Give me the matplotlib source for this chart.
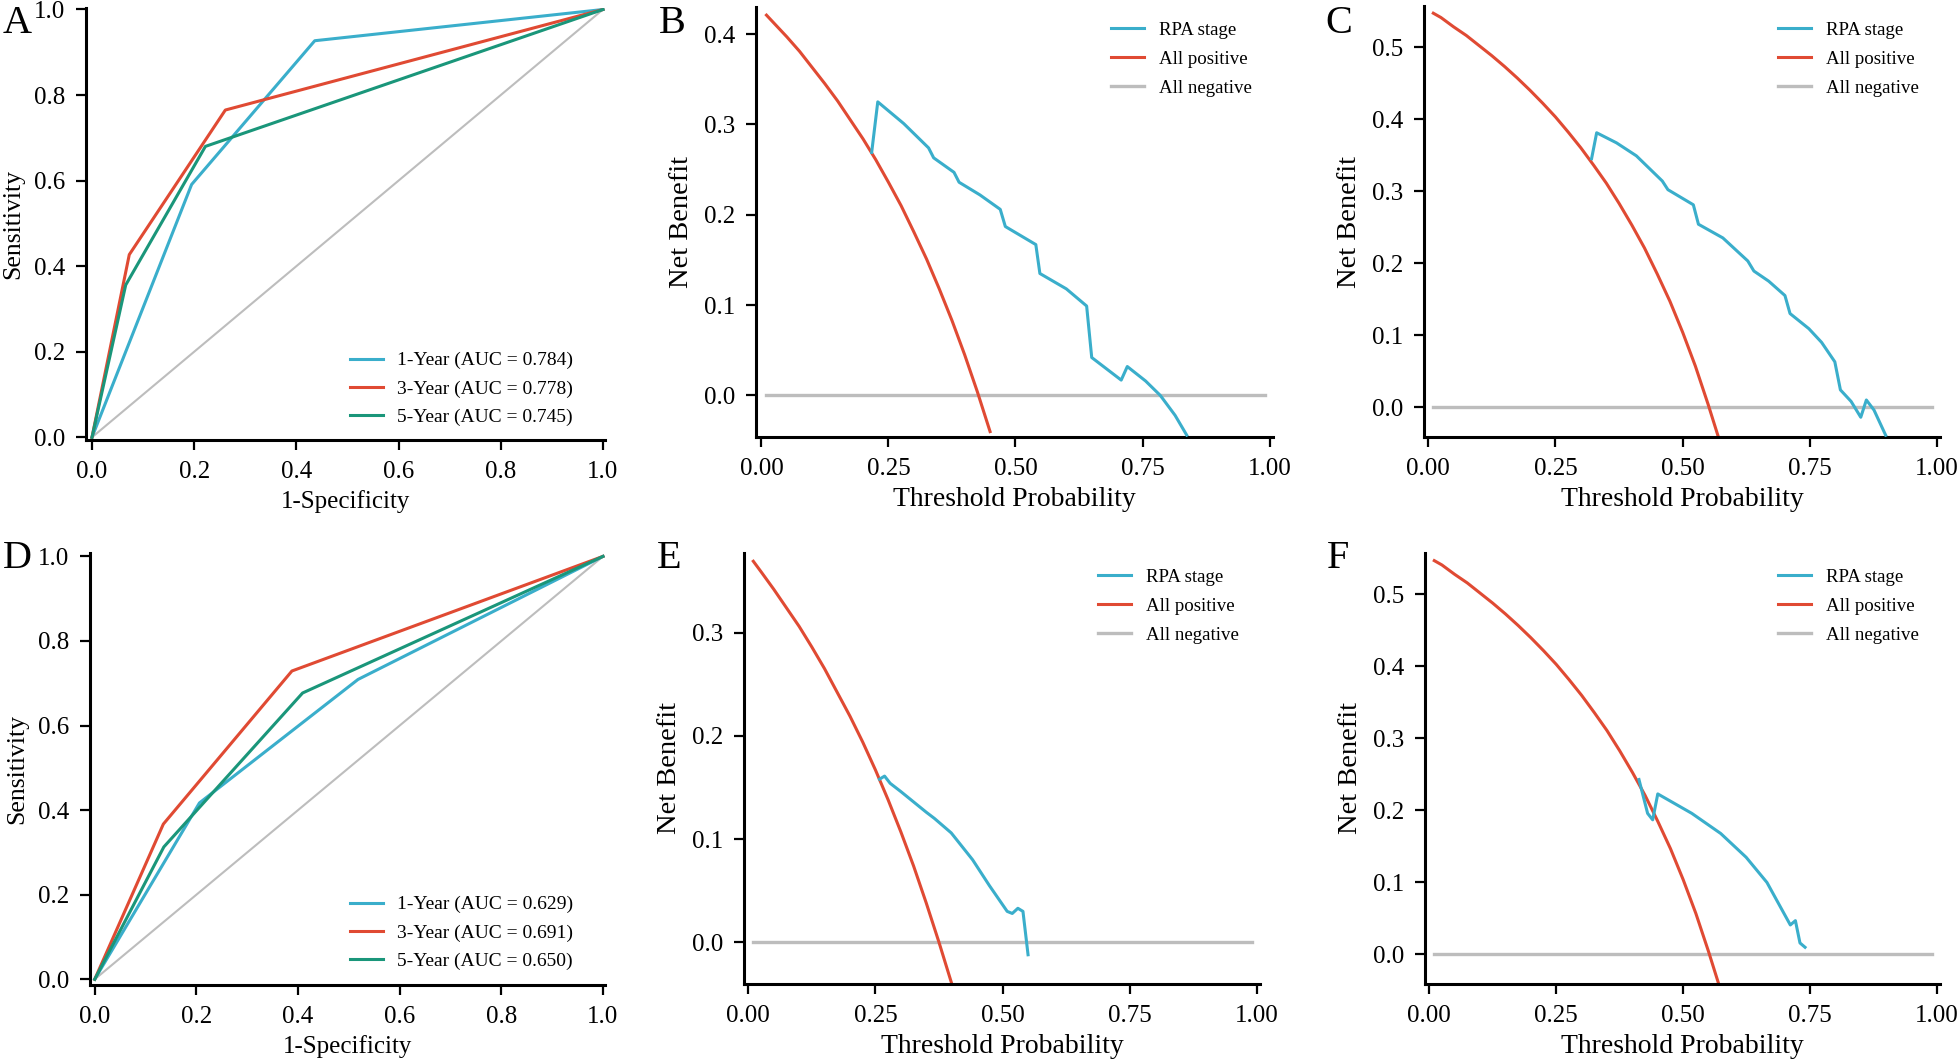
import numpy as np
import matplotlib
matplotlib.use("Agg")
from matplotlib import pyplot as plt

plt.rcParams["font.family"] = ["Liberation Serif", "DejaVu Serif"]

W, H = 1959, 1064

BLUE = "#3aaecb"
RED = "#e04a33"
GREEN = "#1a967a"
GRAY = "#bdbdbd"

# ---- ROC, top row (A) ----
roc_a_fpr = {"1": [0, 0.195, 0.436, 1], "3": [0, 0.073, 0.261, 1], "5": [0, 0.066, 0.222, 1]}
roc_a_tpr = {"1": [0, 0.591, 0.927, 1], "3": [0, 0.427, 0.765, 1], "5": [0, 0.356, 0.680, 1]}
roc_a_auc = {"1": "0.784", "3": "0.778", "5": "0.745"}

# ---- ROC, bottom row (D) ----
roc_d_fpr = {"1": [0, 0.206, 0.518, 1], "3": [0, 0.135, 0.388, 1], "5": [0, 0.136, 0.409, 1]}
roc_d_tpr = {"1": [0, 0.417, 0.709, 1], "3": [0, 0.367, 0.729, 1], "5": [0, 0.313, 0.677, 1]}
roc_d_auc = {"1": "0.629", "3": "0.691", "5": "0.650"}

# threshold grid
t_grid = [0.01, 0.025, 0.05, 0.075, 0.10, 0.125, 0.15, 0.175, 0.20, 0.225, 0.25, 0.275,
          0.30, 0.325, 0.35, 0.375, 0.40, 0.425, 0.45, 0.475, 0.50, 0.525, 0.55, 0.57]

# ---- DCA B ----
b_all_nb = [0.421, 0.412, 0.397, 0.381, 0.363, 0.345, 0.326, 0.305, 0.284, 0.261, 0.236, 0.210,
            0.181, 0.151, 0.118, 0.083, 0.045, 0.004, -0.040]
b_rpa_t = [0.217, 0.229, 0.280, 0.329, 0.339, 0.379, 0.389, 0.430, 0.470, 0.480, 0.540, 0.548,
           0.600, 0.640, 0.650, 0.708, 0.720, 0.756, 0.785, 0.814, 0.837]
b_rpa_nb = [0.269, 0.325, 0.301, 0.274, 0.263, 0.247, 0.236, 0.222, 0.206, 0.187, 0.167, 0.135,
            0.118, 0.099, 0.042, 0.017, 0.032, 0.016, 0.000, -0.022, -0.044]

# ---- DCA C ----
c_all_nb = [0.547, 0.541, 0.528, 0.516, 0.502, 0.488, 0.473, 0.457, 0.440, 0.422, 0.403, 0.382,
            0.360, 0.336, 0.311, 0.283, 0.253, 0.221, 0.185, 0.147, 0.104, 0.057, 0.004, -0.041]
c_rpa_t = [0.321, 0.331, 0.370, 0.409, 0.460, 0.471, 0.521, 0.531, 0.579, 0.628, 0.640, 0.669,
           0.701, 0.711, 0.748, 0.773, 0.799, 0.810, 0.831, 0.850, 0.861, 0.876, 0.899]
c_rpa_nb = [0.345, 0.381, 0.367, 0.349, 0.314, 0.302, 0.281, 0.254, 0.235, 0.203, 0.189, 0.175,
            0.155, 0.130, 0.109, 0.090, 0.063, 0.024, 0.008, -0.014, 0.010, -0.004, -0.039]

# ---- DCA E ----
e_all_nb = [0.369, 0.359, 0.342, 0.324, 0.306, 0.286, 0.265, 0.242, 0.219, 0.194, 0.167, 0.138,
            0.107, 0.074, 0.038, 0.000, -0.040]
e_rpa_t = [0.258, 0.268, 0.279, 0.300, 0.325, 0.350, 0.366, 0.399, 0.441, 0.474, 0.509, 0.519,
           0.530, 0.540, 0.550]
e_rpa_nb = [0.158, 0.161, 0.154, 0.146, 0.136, 0.126, 0.120, 0.106, 0.080, 0.055, 0.030, 0.028,
            0.033, 0.030, -0.012]

# ---- DCA F ----
f_all_nb = [0.547, 0.541, 0.528, 0.516, 0.502, 0.488, 0.473, 0.457, 0.440, 0.422, 0.403, 0.382,
            0.360, 0.336, 0.311, 0.283, 0.253, 0.221, 0.185, 0.147, 0.104, 0.057, 0.004, -0.041]
f_rpa_t = [0.413, 0.430, 0.440, 0.450, 0.517, 0.574, 0.624, 0.665, 0.711, 0.721, 0.730, 0.740]
f_rpa_nb = [0.243, 0.196, 0.187, 0.223, 0.196, 0.168, 0.135, 0.100, 0.041, 0.047, 0.016, 0.010]

neg_t = [0.01, 0.99]
neg_nb = [0, 0]


fig = plt.figure(figsize=(W / 100, H / 100), dpi=100)


def add_axes(left, right, top, bottom):
    return fig.add_axes([left / W, 1 - bottom / H, (right - left) / W, (bottom - top) / H])


def style(ax):
    for s in ["top", "right"]:
        ax.spines[s].set_visible(False)
    for s in ["left", "bottom"]:
        ax.spines[s].set_linewidth(2.2)
    ax.tick_params(width=1.6, length=7, labelsize=18, pad=8, direction="out")


def fx(px):
    return px / W


def fy(py):
    return 1 - py / H


def legend(ax, handles, x, y, size, hl, tp, ls):
    ax.legend(handles=handles, loc="center left", bbox_to_anchor=(fx(x), fy(y)),
              bbox_transform=fig.transFigure, frameon=False, fontsize=size,
              handlelength=hl, handletextpad=tp, labelspacing=ls, borderpad=0, borderaxespad=0)


def roc_panel(box, fpr, tpr, auc, leg_y, letter, letter_xy):
    ax = add_axes(*box)
    style(ax)
    ax.plot([0, 1], [0, 1], color=GRAY, lw=1.5)
    hs = []
    for k, c in zip(["1", "3", "5"], [BLUE, RED, GREEN]):
        h, = ax.plot(fpr[k], tpr[k], color=c, lw=2.2, label=f"{k}-Year (AUC = {auc[k]})")
        hs.append(h)
    ticks = np.arange(0, 1.01, 0.2)
    ax.set_xticks(ticks)
    ax.set_yticks(ticks)
    ax.set_xticklabels([f"{v:.1f}" for v in ticks])
    ax.set_yticklabels([f"{v:.1f}" for v in ticks])
    ax.set_xlabel("1-Specificity", fontsize=18, labelpad=5)
    ax.set_ylabel("Sensitivity", fontsize=18.5, labelpad=7)
    legend(ax, hs, 350, leg_y, 14, 1.7, 0.72, 0.55)
    fig.text(fx(letter_xy[0]), fy(letter_xy[1]), letter, fontsize=29, va="top", ha="left")
    return ax


def dca_panel(box, all_nb, rpa_t, rpa_nb, yticks, leg_x, leg_y, letter, letter_xy):
    ax = add_axes(*box)
    style(ax)
    h1, = ax.plot(rpa_t, rpa_nb, color=BLUE, lw=2.2, label="RPA stage", zorder=3)
    h2, = ax.plot(t_grid[:len(all_nb)], all_nb, color=RED, lw=2.2, label="All positive", zorder=2)
    h3, = ax.plot(neg_t, neg_nb, color=GRAY, lw=2.4, label="All negative", zorder=1)
    ax.set_xticks([0, 0.25, 0.5, 0.75, 1.0])
    ax.set_xticklabels(["0.00", "0.25", "0.50", "0.75", "1.00"])
    ax.set_yticks(yticks)
    ax.set_yticklabels([f"{v:.1f}" for v in yticks])
    ax.set_xlabel("Threshold Probability", fontsize=20, labelpad=5)
    ax.set_ylabel("Net Benefit", fontsize=20.5, labelpad=7)
    legend(ax, [h1, h2, h3], leg_x, leg_y, 13.6, 1.75, 0.8, 0.62)
    fig.text(fx(letter_xy[0]), fy(letter_xy[1]), letter, fontsize=29, va="top", ha="left")
    return ax


# A
ax = roc_panel((86, 605, 8, 440), roc_a_fpr, roc_a_tpr, roc_a_auc, 389, "A", (3, 5))
ax.set_xlim(-0.0117, 1.004)
ax.set_ylim(-0.0063, 1.0035)

# D
ax = roc_panel((90, 605, 553, 985), roc_d_fpr, roc_d_tpr, roc_d_auc, 933, "D", (3, 540))
ax.set_xlim(-0.0093, 1.004)
ax.set_ylim(-0.0135, 1.008)

# B
ax = dca_panel((756, 1273, 7, 437), b_all_nb, b_rpa_t, b_rpa_nb,
               [0.0, 0.1, 0.2, 0.3, 0.4], 1111, 59, "B", (659, 5))
ax.set_xlim(-0.0106, 1.0067)
ax.set_ylim(-0.046, 0.43)

# C
ax = dca_panel((1424, 1940, 6, 437), c_all_nb, c_rpa_t, c_rpa_nb,
               [0.0, 0.1, 0.2, 0.3, 0.4, 0.5], 1778, 59, "C", (1325, 5))
ax.set_xlim(-0.0083, 1.0057)
ax.set_ylim(-0.0414, 0.557)

# E
ax = dca_panel((744, 1260, 553, 984), e_all_nb, e_rpa_t, e_rpa_nb,
               [0.0, 0.1, 0.2, 0.3], 1098, 606, "E", (657, 540))
ax.set_xlim(-0.0083, 1.0059)
ax.set_ylim(-0.0403, 0.377)

# F
ax = dca_panel((1425, 1940, 553, 984), f_all_nb, f_rpa_t, f_rpa_nb,
               [0.0, 0.1, 0.2, 0.3, 0.4, 0.5], 1778, 606, "F", (1327, 540))
ax.set_xlim(-0.0083, 1.0057)
ax.set_ylim(-0.041, 0.5576)

fig.savefig("out.png", dpi=100)
